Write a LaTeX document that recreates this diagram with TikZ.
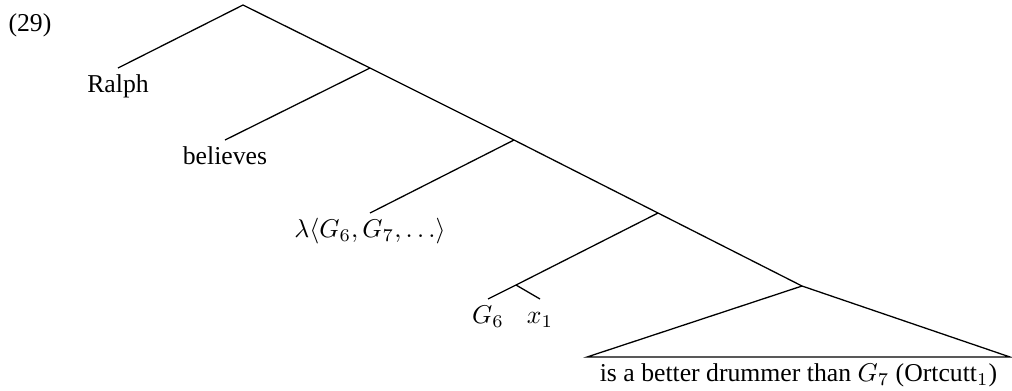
\documentclass[tikz,border=0pt]{standalone}
\usepackage{fontspec}
\setmainfont{Liberation Serif}
\begin{document}
\begin{tikzpicture}[x=.389pt,y=-.389pt,
  leaf/.style={anchor=north,inner sep=2.5pt,text height=.7em,text depth=.25em}]
  \useasboundingbox (0,0) rectangle (1012,390);
  \node[anchor=base west,inner sep=0pt] (ex) at (8,31) {(29)};
  \coordinate (r) at (243,5);
  \coordinate (n1) at (370,68);
  \coordinate (n2) at (514,140);
  \coordinate (n3) at (658,213);
  \coordinate (n3b) at (516,285);
  \coordinate (n4) at (802,286);
  \coordinate (tl) at (587,357);
  \coordinate (tr) at (1010,357);
  \node[leaf] (ralph) at (118,68) {Ralph};
  \node[leaf] (bel) at (225,140) {believes};
  \node[leaf] (lam) at (370,213) {$\lambda\langle G_6, G_7, \ldots\rangle$};
  \node[leaf] (g6) at (488,299) {$G_6$};
  \node[leaf] (x1) at (540,299) {$x_1$};
  \node[leaf] (vp) at (798.5,357) {is a better drummer than $G_7$ (Ortcutt$_1$)};
  \draw[line width=.5pt] (ralph.north)--(r)--(n1)--(n2)--(n3)--(n4);
  \draw[line width=.5pt] (n1)--(bel.north);
  \draw[line width=.5pt] (n2)--(lam.north);
  \draw[line width=.5pt] (n3)--(n3b)--(g6.north);
  \draw[line width=.5pt] (n3b)--(x1.north);
  \draw[line width=.5pt] (n4)--(tl)--(tr)--cycle;
\end{tikzpicture}
\end{document}
